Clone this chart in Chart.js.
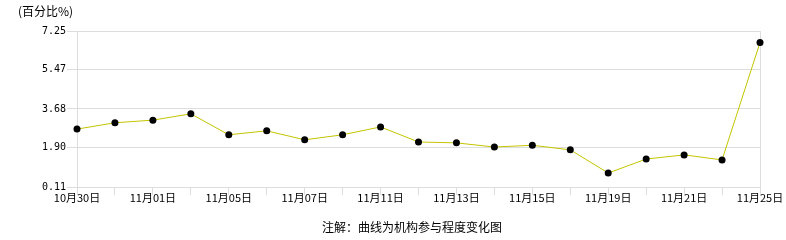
<!DOCTYPE html>
<html>
<head>
<meta charset="utf-8">
<script src="https://cdn.jsdelivr.net/npm/chart.js@4"></script>
<style>
  body { margin: 0; background: #fff; }
</style>
</head>
<body>
<canvas id="orgChart" width="786" height="240"></canvas>
<script>
// dates (only every other one gets a label under the axis)
const dates = ["10月30日", "10月31日", "11月01日", "11月04日", "11月05日", "11月06日", "11月07日",
  "11月08日", "11月11日", "11月12日", "11月13日", "11月14日", "11月15日", "11月18日",
  "11月19日", "11月20日", "11月21日", "11月22日", "11月25日"];
const participation = [2.76, 3.05, 3.17, 3.46, 2.50, 2.68, 2.27, 2.50, 2.86, 2.17, 2.13, 1.94,
  2.02, 1.81, 0.75, 1.39, 1.58, 1.35, 6.72];
const yTicks = [0.11, 1.90, 3.68, 5.47, 7.25];
const unitLabel = "(百分比%)";
const noteLabel = "注解：曲线为机构参与程度变化图";

const textPlugin = {
  id: "extraText",
  afterDraw(chart) {
    const c = chart.ctx;
    c.save();
    c.fillStyle = "#000";
    c.font = '12px "Noto Sans CJK SC"';
    c.textBaseline = "middle";
    c.textAlign = "left";
    c.fillText(unitLabel, 18, 11);
    c.textAlign = "center";
    c.fillText(noteLabel, 412, 227);
    c.restore();
  }
};

const ctx = document.getElementById("orgChart").getContext("2d");
const lastIdx = dates.length - 1;

new Chart(ctx, {
  type: "line",
  data: {
    labels: dates,
    datasets: [{
      data: participation,
      borderColor: "#c4c400",
      borderWidth: 1,
      pointRadius: 3.5,
      pointBackgroundColor: "#000",
      pointBorderColor: "#000",
      pointBorderWidth: 0,
      tension: 0,
      fill: false
    }]
  },
  options: {
    responsive: false,
    animation: false,
    layout: { padding: { left: 0, right: 26, top: 31, bottom: 0 } },
    plugins: {
      legend: { display: false },
      tooltip: { enabled: false }
    },
    scales: {
      x: {
        offset: false,
        afterFit: s => { s.height = 53; },
        grid: {
          color: c => (c.index === 0 || c.index === lastIdx) ? "#dddddd" : "rgba(0,0,0,0)",
          tickColor: "#dddddd",
          tickLength: 8,
          drawTicks: true
        },
        border: { color: "#dddddd" },
        ticks: {
          autoSkip: false,
          maxRotation: 0,
          padding: -4,
          color: "#000",
          font: { family: "Noto Sans CJK SC", size: 11 },
          callback: (v, i) => (i % 2 === 0 ? dates[i] : "")
        }
      },
      y: {
        min: 0.11,
        max: 7.25,
        afterFit: s => { s.width = 77; },
        afterBuildTicks: axis => { axis.ticks = yTicks.map(v => ({ value: v })); },
        grid: { color: "#dddddd", tickLength: 10 },
        border: { color: "#dddddd" },
        ticks: {
          padding: 1,
          color: "#000",
          font: { family: "DejaVu Sans Mono", size: 10 },
          callback: v => Number(v).toFixed(2)
        }
      }
    }
  },
  plugins: [textPlugin]
});
</script>
</body>
</html>
